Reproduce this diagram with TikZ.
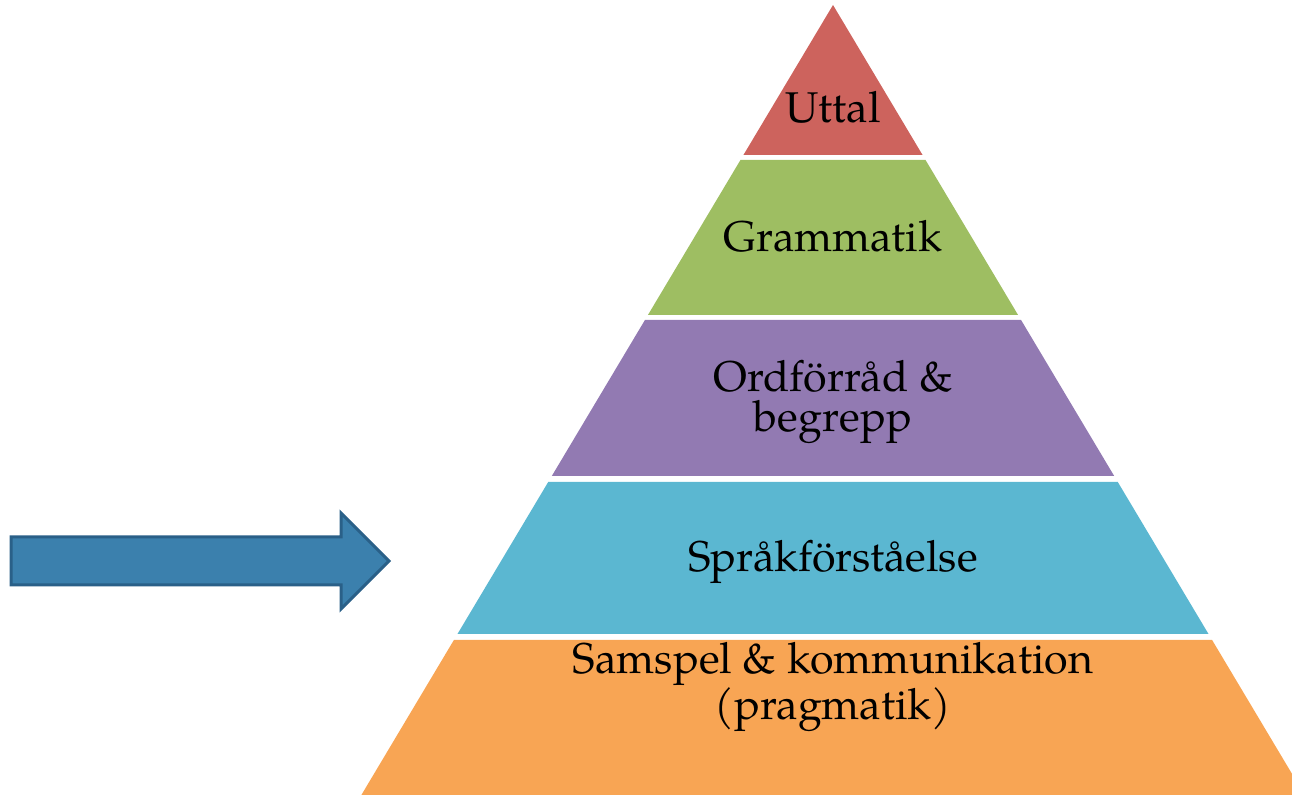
\documentclass[tikz,border=0pt]{standalone}
\usepackage{fontspec}
\setmainfont{texgyrepagella}[Extension=.otf, UprightFont=*-regular]
\definecolor{C0}{RGB}{205,99,93}
\definecolor{C1}{RGB}{158,190,98}
\definecolor{C2}{RGB}{146,122,178}
\definecolor{C3}{RGB}{91,183,209}
\definecolor{C4}{RGB}{248,165,84}
\definecolor{C5}{RGB}{59,128,173}
\definecolor{C6}{RGB}{42,96,136}

\begin{document}
\begin{tikzpicture}[x=0.5pt,y=-0.5pt,
    label/.style={font=\fontsize{21.5}{20}\selectfont, align=center, anchor=base}]

  \useasboundingbox (0,0) rectangle (1292,795);
  \clip (0,0) rectangle (1292,795);

  % Pyramid layers, apex at (833,5).
  \foreach \top/\bot/\col in {5/155/C0, 160/315/C1, 320/476/C2, 482/634/C3, 640/830/C4} {
    \fill[\col] ({833-0.597*(\top-5)},\top) -- ({833+0.597*(\top-5)},\top)
      -- ({833+0.597*(\bot-5)},\bot) -- ({833-0.597*(\bot-5)},\bot) -- cycle;
  }

  % Layer labels (base = last line).
  \node[label] (uttal) at (833,123) {Uttal};
  \node[label] (grammatik) at (833,252) {Grammatik};
  \node[label] (ordforrad) at (833,432) {Ordförråd \&\\begrepp};
  \node[label] (sprak) at (833,572) {Språkförståelse};
  \node[label] (samspel) at (833,720) {Samspel \& kommunikation\\(pragmatik)};

  % Arrow pointing at the fourth layer.
  \draw[fill=C5, draw=C6, line width=1.5pt] (11,537) -- (341,537) -- (341,513) -- (389,561)
    -- (341,609) -- (341,585) -- (11,585) -- cycle;

\end{tikzpicture}
\end{document}
